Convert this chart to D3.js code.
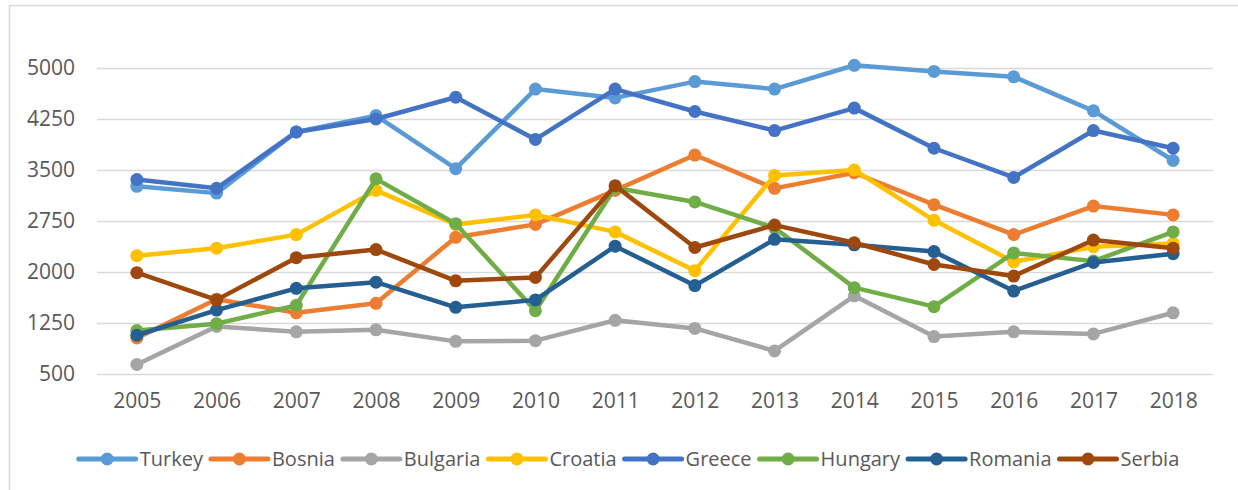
<!DOCTYPE html>
<html>
<head>
<meta charset="utf-8">
<script src="https://cdn.jsdelivr.net/npm/d3@7"></script>
<style>
  body { margin: 0; background: #fff; }
  text { font-family: "Open Sans", sans-serif; fill: #595959; }
</style>
</head>
<body>
<div id="chart"></div>
<script>
// data
var years = ["2005","2006","2007","2008","2009","2010","2011","2012","2013","2014","2015","2016","2017","2018"];
var yTicks = [500, 1250, 2000, 2750, 3500, 4250, 5000];

var turkey   = [3260, 3160, 4060, 4300, 3520, 4690, 4560, 4800, 4690, 5040, 4950, 4870, 4370, 3640];
var bosnia   = [1030, 1600, 1400, 1540, 2510, 2700, 3200, 3720, 3230, 3460, 2990, 2550, 2970, 2840];
var bulgaria = [640, 1200, 1120, 1150, 980, 990, 1290, 1170, 840, 1650, 1050, 1120, 1090, 1400];
var croatia  = [2240, 2350, 2550, 3200, 2700, 2840, 2590, 2020, 3420, 3500, 2760, 2150, 2370, 2420];
var greece   = [3360, 3230, 4060, 4250, 4570, 3950, 4690, 4360, 4080, 4410, 3820, 3390, 4080, 3820];
var hungary  = [1140, 1240, 1510, 3370, 2710, 1430, 3240, 3030, 2650, 1770, 1490, 2280, 2160, 2590];
var romania  = [1070, 1440, 1760, 1850, 1480, 1590, 2380, 1800, 2480, 2400, 2300, 1720, 2140, 2270];
var serbia   = [1990, 1590, 2210, 2330, 1870, 1920, 3270, 2360, 2690, 2430, 2110, 1940, 2470, 2350];

var seriesNames = ["Turkey", "Bosnia", "Bulgaria", "Croatia", "Greece", "Hungary", "Romania", "Serbia"];
var seriesValues = [turkey, bosnia, bulgaria, croatia, greece, hungary, romania, serbia];
var colors = ["#5B9BD5", "#ED7D31", "#A5A5A5", "#FFC000", "#4472C4", "#70AD47", "#255E91", "#9E480E"];

var series = seriesNames.map(function (n, i) {
  return { name: n, color: colors[i], values: seriesValues[i] };
});

var W = 1238, H = 490;
var plot = { left: 97, right: 1213, top: 68, bottom: 374 };

var svg = d3.select("#chart")
  .append("svg")
    .attr("width", W)
    .attr("height", H);

// chart frame
svg.append("rect")
  .attr("x", 9.5).attr("y", 5.5)
  .attr("width", 1240).attr("height", 520)
  .attr("fill", "none")
  .attr("stroke", "#D9D9D9")
  .attr("stroke-width", 1.5);

var x = d3.scalePoint()
  .domain(years)
  .range([plot.left, plot.right])
  .padding(0.5);

var y = d3.scaleLinear()
  .domain([500, 5000])
  .range([plot.bottom, plot.top]);

// gridlines + y labels
var yAxis = svg.append("g")
  .attr("transform", "translate(" + plot.left + ",0)")
  .call(d3.axisLeft(y).tickValues(yTicks).tickFormat(d3.format("d"))
    .tickSize(-(plot.right - plot.left)).tickPadding(22));
yAxis.select(".domain").remove();
yAxis.selectAll(".tick line").attr("stroke", "#D9D9D9").attr("stroke-width", 1.5);
yAxis.selectAll(".tick text")
  .style("font-family", "'Open Sans', sans-serif")
  .style("font-size", "21px")
  .attr("fill", "#595959");

// x labels
var xAxis = svg.append("g")
  .attr("transform", "translate(0," + plot.bottom + ")")
  .call(d3.axisBottom(x).tickSize(0).tickPadding(19));
xAxis.select(".domain").remove();
xAxis.selectAll(".tick text")
  .style("font-family", "'Open Sans', sans-serif")
  .style("font-size", "21px")
  .attr("fill", "#595959");

var line = d3.line()
  .x(function (d, i) { return x(years[i]); })
  .y(function (d) { return y(d); });

// lines and markers, drawn in series order
series.forEach(function (s) {
  var g = svg.append("g");
  g.append("path")
    .datum(s.values)
    .attr("d", line)
    .attr("fill", "none")
    .attr("stroke", s.color)
    .attr("stroke-width", 4.5)
    .attr("stroke-linejoin", "round");
  g.selectAll("circle")
    .data(s.values)
    .enter()
    .append("circle")
      .attr("cx", function (d, i) { return x(years[i]); })
      .attr("cy", function (d) { return y(d); })
      .attr("r", 6.5)
      .attr("fill", s.color);
});

// legend
var legend = svg.append("g");
var lx = 0;
series.forEach(function (s) {
  var item = legend.append("g").attr("transform", "translate(" + lx + ",0)");
  item.append("line")
    .attr("x1", 0).attr("x2", 57)
    .attr("y1", 0).attr("y2", 0)
    .attr("stroke", s.color)
    .attr("stroke-width", 5)
    .attr("stroke-linecap", "round");
  item.append("circle")
    .attr("cx", 28.5).attr("cy", 0).attr("r", 6.5)
    .attr("fill", s.color);
  var t = item.append("text")
    .attr("x", 61).attr("y", 7)
    .style("font-size", "20px")
    .text(s.name);
  lx += 61 + t.node().getComputedTextLength() + 8;
});
legend.attr("transform", "translate(" + (629 - (lx - 8) / 2) + ",459)");
</script>
</body>
</html>
